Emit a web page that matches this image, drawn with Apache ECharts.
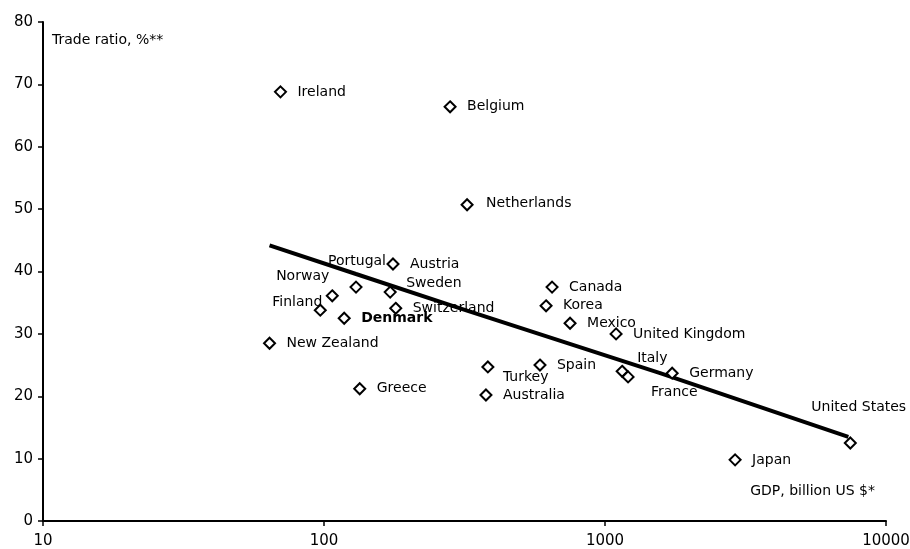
<!DOCTYPE html>
<html>
<head>
<meta charset="utf-8">
<script src="https://cdn.jsdelivr.net/npm/echarts@6/dist/echarts.min.js"></script>
<style>
  html, body { margin: 0; padding: 0; background: #fff; }
  #chart { width: 910px; height: 549px; }
</style>
</head>
<body>
<div id="chart"></div>
<script>
// data
const countries = ['Ireland', 'Belgium', 'Netherlands', 'Austria', 'Portugal', 'Norway', 'Sweden',
  'Finland', 'Denmark', 'Switzerland', 'New Zealand', 'Greece', 'Canada', 'Korea', 'Mexico',
  'United Kingdom', 'Turkey', 'Spain', 'Australia', 'Italy', 'France', 'Germany', 'United States', 'Japan'];
const gdp = [70, 281, 323, 176, 130, 107, 172, 97, 118, 180, 64, 134, 648, 617, 751,
  1095, 383, 587, 377, 1151, 1208, 1734, 7464, 2904];
const tradeRatio = [68.8, 66.4, 50.7, 41.2, 37.5, 36.1, 36.7, 33.8, 32.5, 34.1, 28.5, 21.2, 37.5, 34.5, 31.7,
  30.0, 24.7, 25.0, 20.2, 24.0, 23.1, 23.7, 12.5, 9.8];
// trend line
const trendGdp = [64, 130, 305, 1571, 7345];
const trendRatio = [44.2, 39.6, 34.1, 23.7, 13.5];
const xTicks = [10, 100, 1000, 10000];

// label placement: [dx, dy, align] from the marker centre
const labelPos = {
  'Portugal': [2, -25, 'center'],
  'Norway': [-2, -18, 'right'],
  'Sweden': [17, -8, 'left'],
  'Finland': [3, -7, 'right'],
  'Turkey': [16, 11, 'left'],
  'Italy': [16, -12, 'left'],
  'France': [24, 16, 'left'],
  'United States': [-38, -35, 'left'],
  'Netherlands': [20, 0, 'left']
};

const FONT = 'DejaVu Sans';
const SYM = 11;

const points = countries.map((name, i) => {
  const p = labelPos[name] || [18, 1, 'left'];
  return {
    name: name,
    value: [gdp[i], tradeRatio[i]],
    label: {
      show: true,
      position: [p[0] + SYM / 2, p[1] + SYM / 2],
      align: p[2],
      verticalAlign: 'middle',
      formatter: name,
      color: '#000',
      fontFamily: FONT,
      fontSize: 14,
      fontWeight: name === 'Denmark' ? 'bold' : 'normal'
    }
  };
});

const chart = echarts.init(document.getElementById('chart'));
chart.setOption({
  animation: false,
  grid: { left: 43, right: 24, top: 22, bottom: 28, outerBoundsMode: 'none', containLabel: false },
  xAxis: {
    type: 'log',
    logBase: 10,
    min: 10,
    max: 10000,
    axisLine: { lineStyle: { color: '#000', width: 2 } },
    axisTick: { length: 5, lineStyle: { color: '#000', width: 1.5 } },
    splitLine: { show: false },
    minorTick: { show: false },
    axisLabel: {
      color: '#000', fontFamily: FONT, fontSize: 15, margin: 13,
      formatter: v => (xTicks.indexOf(Math.round(v)) >= 0 ? String(Math.round(v)) : '')
    }
  },
  yAxis: {
    type: 'value',
    min: 0,
    max: 80,
    interval: 10,
    axisLine: { show: true, lineStyle: { color: '#000', width: 2 } },
    axisTick: { show: true, length: 5, lineStyle: { color: '#000', width: 1.5 } },
    splitLine: { show: false },
    axisLabel: { color: '#000', fontFamily: FONT, fontSize: 15, margin: 10 }
  },
  graphic: [
    {
      type: 'text', left: 52, top: 33,
      style: { text: 'Trade ratio, %**', fill: '#000', font: '14px "DejaVu Sans"' }
    },
    {
      type: 'text', right: 35, top: 484,
      style: { text: 'GDP, billion US $*', fill: '#000', font: '14px "DejaVu Sans"' }
    }
  ],
  series: [
    {
      type: 'line',
      data: trendGdp.map((g, i) => [g, trendRatio[i]]),
      symbol: 'none',
      lineStyle: { color: '#000', width: 4 },
      z: 2
    },
    {
      type: 'scatter',
      data: points,
      symbol: 'diamond',
      symbolSize: SYM,
      itemStyle: { color: '#fff', borderColor: '#000', borderWidth: 2, opacity: 1 },
      z: 3
    }
  ]
});
</script>
</body>
</html>
